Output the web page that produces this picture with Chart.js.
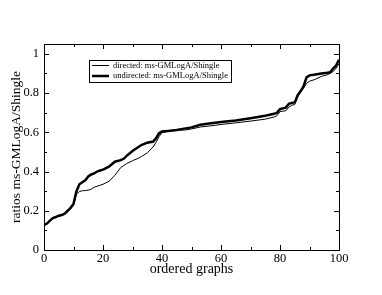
<!DOCTYPE html>
<html>
<head>
<meta charset="utf-8">
<script src="https://cdn.jsdelivr.net/npm/chart.js@4.4.1/dist/chart.umd.min.js"></script>
<style>
  html, body { margin: 0; padding: 0; background: #fff; }
  #wrap { width: 382px; height: 295px; }
</style>
</head>
<body>
<div id="wrap"><canvas id="myChart" width="382" height="295"></canvas></div>
<script>
var xs = [0,1,2,3,4,5,6,7,8,9,10,11,12,13,14,15,16,17,18,19,20,22,24,26,27,28,30,32,33,35,37,38,39,40,42,45,48,50,53,56,60,65,70,75,78,79,80,81,82,83,84,85,86,87,88,89,90,92,94,96,97,98,99,100];

var undirected = [0.128,0.135,0.15,0.163,0.168,0.175,0.178,0.185,0.2,0.215,0.235,0.30,0.335,0.345,0.355,0.375,0.385,0.39,0.40,0.405,0.41,0.425,0.45,0.458,0.465,0.48,0.505,0.525,0.535,0.547,0.553,0.57,0.595,0.604,0.607,0.612,0.62,0.625,0.638,0.645,0.652,0.66,0.672,0.684,0.694,0.70,0.718,0.722,0.726,0.745,0.75,0.752,0.79,0.81,0.835,0.88,0.89,0.895,0.90,0.903,0.906,0.925,0.94,0.97];

var directed = [0.125,0.133,0.148,0.16,0.166,0.173,0.176,0.183,0.195,0.21,0.228,0.285,0.298,0.302,0.303,0.305,0.31,0.32,0.325,0.33,0.335,0.35,0.38,0.42,0.43,0.44,0.455,0.468,0.476,0.495,0.525,0.55,0.578,0.598,0.605,0.61,0.612,0.617,0.627,0.632,0.64,0.648,0.657,0.667,0.678,0.685,0.705,0.708,0.71,0.728,0.738,0.742,0.78,0.805,0.825,0.85,0.86,0.87,0.885,0.893,0.90,0.91,0.925,0.95];

var seriesNames = ["directed: ms-GMLogA/Shingle", "undirected: ms-GMLogA/Shingle"];
var xTicks = [0,20,40,60,80,100];
var yTicks = [0,0.2,0.4,0.6,0.8,1];
var yTickLabels = ["0","0.2","0.4","0.6","0.8","1"];

function points(ys) {
    var out = [];
    for (var i = 0; i < xs.length; i++) {
        out.push({ x: xs[i], y: ys[i] });
    }
    return out;
}

var serif = "'Liberation Serif', 'DejaVu Serif', serif";

// frame with inward ticks, plus the legend box inside the plot
var framePlugin = {
    id: 'frame',
    afterDatasetsDraw: function (chart) {
        var ctx = chart.ctx;
        var a = chart.chartArea;
        var sx = chart.scales.x, sy = chart.scales.y;
        ctx.save();
        ctx.strokeStyle = '#000';
        ctx.lineWidth = 1;
        ctx.strokeRect(Math.round(a.left) + 0.5, Math.round(a.top) + 0.5,
            Math.round(a.right - a.left), Math.round(a.bottom - a.top));
        ctx.beginPath();
        for (var v = 0; v <= 100; v += 10) {
            var px = Math.round(sx.getPixelForValue(v)) + 0.5;
            var len = (v % 20 === 0) ? 5 : 3;
            ctx.moveTo(px, a.bottom); ctx.lineTo(px, a.bottom - len);
            ctx.moveTo(px, a.top); ctx.lineTo(px, a.top + len);
        }
        for (var k = 0; k <= 10; k++) {
            var py = Math.round(sy.getPixelForValue(k / 10)) + 0.5;
            var l2 = (k % 2 === 0) ? 5 : 3;
            ctx.moveTo(a.left, py); ctx.lineTo(a.left + l2, py);
            ctx.moveTo(a.right, py); ctx.lineTo(a.right - l2, py);
        }
        ctx.stroke();

        // legend
        ctx.fillStyle = '#fff';
        ctx.fillRect(89.5, 60.5, 142, 22);
        ctx.strokeRect(89.5, 60.5, 142, 22);
        ctx.font = "8.5px " + serif;
        ctx.fillStyle = '#000';
        ctx.textBaseline = 'middle';
        var widths = [1, 2.5];
        var rows = [65.5, 76];
        for (var i = 0; i < seriesNames.length; i++) {
            ctx.lineWidth = widths[i];
            ctx.beginPath();
            ctx.moveTo(92, rows[i]); ctx.lineTo(109, rows[i]);
            ctx.stroke();
            ctx.fillText(seriesNames[i], 113, rows[i]);
        }
        ctx.restore();
    }
};

new Chart("myChart", {
    type: "line",
    data: {
        datasets: [{
            label: seriesNames[0],
            data: points(directed),
            borderColor: '#000',
            borderWidth: 1,
            pointRadius: 0,
            tension: 0
        }, {
            label: seriesNames[1],
            data: points(undirected),
            borderColor: '#000',
            borderWidth: 2.5,
            pointRadius: 0,
            tension: 0
        }]
    },
    options: {
        responsive: false,
        animation: false,
        layout: { padding: { left: 8, right: 43, top: 44, bottom: 17 } },
        plugins: {
            legend: { display: false },
            tooltip: { enabled: false }
        },
        scales: {
            x: {
                type: 'linear',
                min: 0,
                max: 100,
                afterBuildTicks: function (scale) {
                    scale.ticks = xTicks.map(function (v) { return { value: v }; });
                },
                afterFit: function (scale) { scale.height = 28; },
                grid: { display: false, drawTicks: false, tickLength: 0 },
                border: { display: false },
                ticks: {
                    color: '#000',
                    padding: 1,
                    maxRotation: 0,
                    font: { family: serif, size: 12.5 }
                },
                title: {
                    display: true,
                    text: 'ordered graphs',
                    color: '#000',
                    padding: { top: 0, bottom: 0 },
                    font: { family: serif, size: 14 }
                }
            },
            y: {
                min: 0,
                max: 1.05,
                afterBuildTicks: function (scale) {
                    scale.ticks = yTicks.map(function (v) { return { value: v }; });
                },
                afterFit: function (scale) { scale.width = 36; },
                grid: { display: false, drawTicks: false, tickLength: 0 },
                border: { display: false },
                ticks: {
                    color: '#000',
                    padding: 5,
                    font: { family: serif, size: 12.5 },
                    callback: function (value, index) { return yTickLabels[index]; }
                },
                title: {
                    display: true,
                    text: 'ratios ms-GMLogA/Shingle',
                    color: '#000',
                    padding: { top: 0, bottom: 0 },
                    font: { family: serif, size: 13.5 }
                }
            }
        }
    },
    plugins: [framePlugin]
});
</script>
</body>
</html>
